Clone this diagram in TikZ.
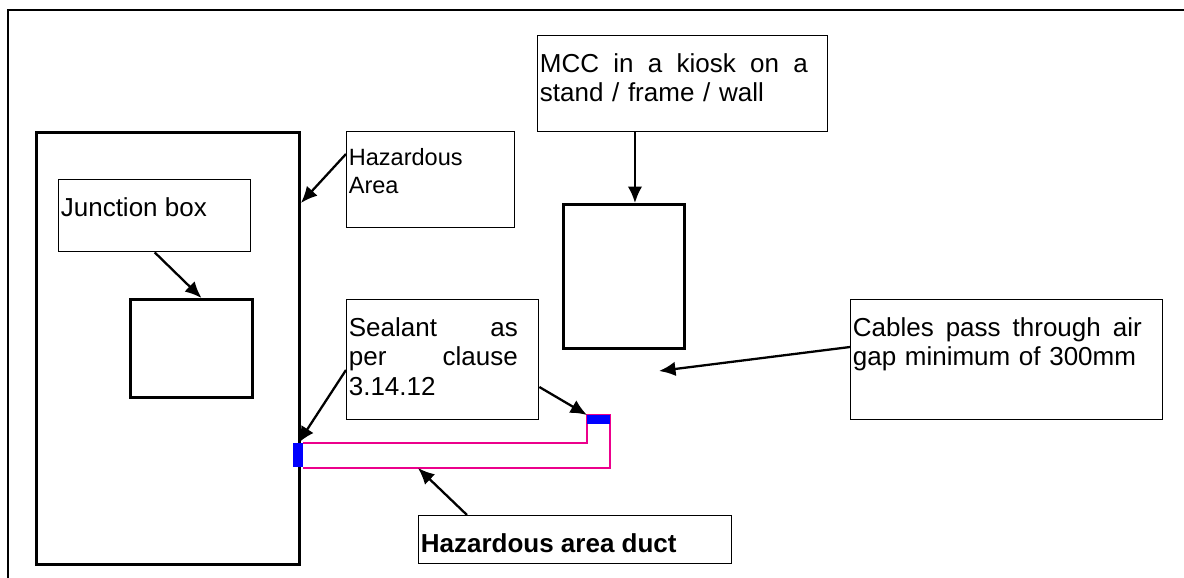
\documentclass[tikz,border=0pt]{standalone}
\usepackage{fontspec}
\setmainfont{Liberation Sans}
\usetikzlibrary{arrows.meta, calc}

\newcommand{\lblfont}{\fontsize{14.8pt}{16.9pt}\selectfont}
\newcommand{\smlfont}{\fontsize{13.4pt}{15.9pt}\selectfont}
\newcommand{\jsp}{\hskip 0pt plus 1filll\relax}

\tikzset{
  lbl/.style={draw, line width=0.8pt, anchor=north west, inner sep=0pt},
  unit/.style={draw, line width=1.7pt, anchor=north west, inner sep=0pt},
  txt/.style={anchor=north west, inner xsep=0.05cm, inner ysep=0.36cm, font=\lblfont, align=left},
  seal/.style={fill=blue, draw=none, anchor=north west, inner sep=0pt},
  arr/.style={-{Latex[length=0.33cm, width=0.29cm]}, line width=1.3pt}
}

\begin{document}
\begin{tikzpicture}[x=0.02cm, y=-0.02cm]

        \useasboundingbox (0,0) rectangle (1184,578);

        % page frame
        \draw[line width=0.8pt] (8,578) -- (8,10) -- (1184,10);

        % areas and enclosures
        \node[unit, minimum width=5.26cm, minimum height=8.64cm] (hazbox) at (35,131) {};
        \node[unit, minimum width=2.44cm, minimum height=1.96cm] (jbox) at (129,298) {};
        \node[unit, minimum width=2.42cm, minimum height=2.88cm] (kiosk) at (562,203) {};

        % duct
        \draw[magenta, line width=0.9pt] (303,443) -- (587,443) -- (587,415)
            -- (610,415) -- (610,468) -- (303,468);
        \node[seal, minimum width=0.20cm, minimum height=0.48cm] (sealL) at (293,443) {};
        \node[seal, minimum width=0.46cm, minimum height=0.18cm] (sealR) at (587,415) {};

        % label boxes
        \node[lbl, minimum width=3.84cm, minimum height=1.44cm] (jbl) at (58,179) {};
        \node[lbl, minimum width=3.36cm, minimum height=1.92cm] (hzl) at (346,131) {};
        \node[lbl, minimum width=5.80cm, minimum height=1.92cm] (mccl) at (537,35) {};
        \node[lbl, minimum width=3.84cm, minimum height=2.40cm] (sl) at (346,299) {};
        \node[lbl, minimum width=6.24cm, minimum height=2.40cm] (cbl) at (850,299) {};
        \node[lbl, minimum width=6.26cm, minimum height=0.96cm] (dl) at (418,515) {};

        % label texts
        \node[txt] (jbt) at (jbl.north west) {Junction box};
        \node[txt, font=\smlfont, inner ysep=0.34cm] (hzt) at (hzl.north west) {Hazardous\\Area};
        \node[txt, text width=5.36cm] (mcct) at (mccl.north west)
            {MCC \jsp in \jsp a \jsp kiosk \jsp on \jsp a\\stand / frame / wall};
        \node[txt, text width=3.38cm] (st) at (sl.north west)
            {Sealant \jsp as\\per \jsp clause\\3.14.12};
        \node[txt, text width=5.78cm] (cbt) at (cbl.north west)
            {Cables \jsp pass \jsp through \jsp air\\gap minimum of 300mm};
        \node[txt, font=\lblfont\bfseries] (dt) at (dl.north west) {Hazardous area duct};

        % pointers
        \coordinate (kt) at ($(kiosk.north)+(11,0)$);
        \coordinate (gap) at (659,371);
        \coordinate (ductb) at (418,468);

        \draw[arr] (jbl.south) -- ($(jbox.north)+(10,0)$);
        \draw[arr] ($(hzl.north west)+(0,23)$) -- ($(hazbox.north east)+(0,72)$);
        \draw[arr] (mccl.south -| kt) -- (kt);
        \draw[arr] ($(cbl.north west)+(0,48)$) -- (gap);
        \draw[arr] ($(sl.north west)+(0,71)$) -- (sealL.north);
        \draw[arr] ($(sl.north east)+(0,88)$) -- (sealR.north west);
        \draw[arr] ($(dl.north west)+(49,0)$) -- (ductb);

      \end{tikzpicture}
\end{document}
